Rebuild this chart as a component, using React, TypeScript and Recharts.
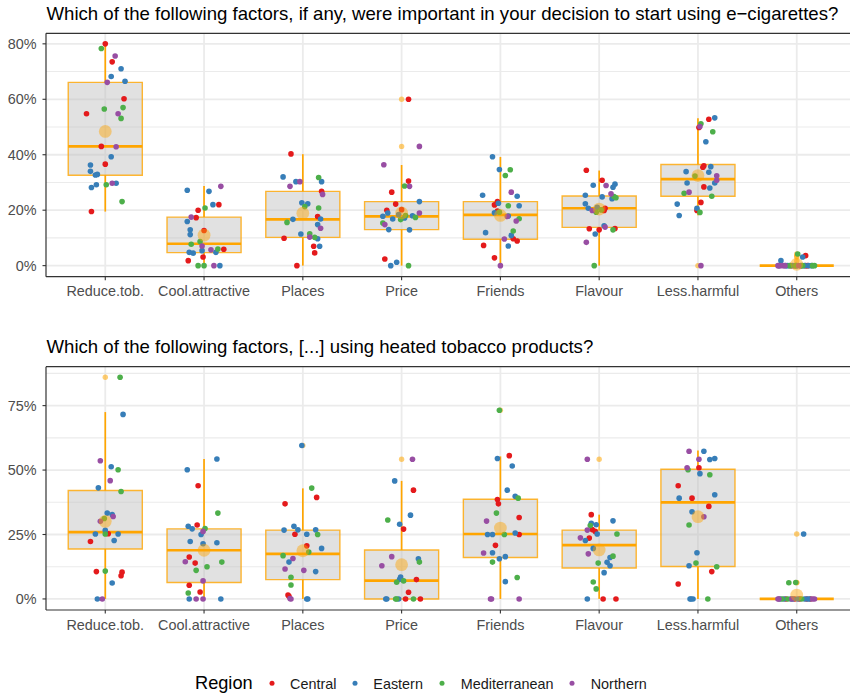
import React from 'react';
import {
  ScatterChart, Scatter, XAxis, YAxis, CartesianGrid, ReferenceArea, ReferenceLine
} from 'recharts';

const FONT = '"Liberation Sans", Arial, Helvetica, sans-serif';

const categories = ['Reduce.tob.', 'Cool.attractive', 'Places', 'Price', 'Friends', 'Flavour', 'Less.harmful', 'Others'];
const regionNames = ['Central', 'Eastern', 'Mediterranean', 'Northern'];
const regionKeys = ['C', 'E', 'M', 'N'];
const regionColors: Record<string, string> = { C: '#E41A1C', E: '#377EB8', M: '#4DAF4A', N: '#984EA3' };

type Pt = [string, number, number]; // region, jitter (category units), share %

// ---- e-cigarettes ----
const ecigReduce: Pt[] = [
  ['C', 0, 80.0], ['M', -0.04, 78.3], ['N', 0.10, 75.6], ['C', 0.07, 73.5], ['E', 0.16, 71.0], ['E', 0.06, 68.2],
  ['E', 0.20, 66.5], ['N', 0.02, 66.1], ['C', 0.19, 60.2], ['M', -0.01, 56.5], ['M', 0.18, 57.0], ['C', -0.19, 54.8],
  ['N', 0.13, 54.8], ['M', 0.16, 53.1], ['C', -0.04, 43.0], ['N', 0.11, 42.9], ['E', 0.06, 39.3], ['C', 0.0, 36.6],
  ['E', -0.15, 36.3], ['E', -0.15, 34.0], ['E', -0.10, 32.7], ['E', -0.08, 32.9], ['E', -0.14, 28.2], ['E', -0.09, 29.2],
  ['M', 0.01, 29.2], ['N', 0.07, 29.7], ['E', 0.11, 29.7], ['M', 0.17, 23.1], ['C', -0.14, 19.5],
];
const ecigCool: Pt[] = [
  ['E', -0.17, 27.2], ['E', 0.05, 26.8], ['N', 0.17, 28.6], ['E', 0.09, 22.0], ['C', 0.15, 22.0], ['M', 0.01, 20.8],
  ['C', -0.06, 20.0], ['N', -0.13, 17.5], ['C', -0.08, 17.3], ['E', -0.17, 15.9], ['E', -0.14, 12.9], ['E', -0.14, 11.2],
  ['C', 0, 12.7], ['M', -0.13, 7.7], ['M', -0.04, 8.7], ['N', -0.02, 7.1], ['E', -0.15, 4.8], ['E', -0.11, 4.5],
  ['E', -0.02, 5.4], ['N', 0.07, 5.7], ['M', 0.14, 6.0], ['C', 0.20, 5.9], ['E', 0.12, 4.8], ['C', -0.01, 3.1],
  ['C', -0.16, 1.8], ['M', -0.06, 0], ['M', 0, 0], ['N', 0.10, 0], ['E', 0.16, 0],
];
const ecigPlaces: Pt[] = [
  ['C', -0.12, 40.3], ['E', -0.20, 32.0], ['E', -0.07, 30.3], ['N', -0.13, 28.6], ['N', -0.03, 30.3], ['E', -0.01, 22.7],
  ['E', 0.05, 22.3], ['M', 0.02, 21.3], ['E', -0.10, 16.7], ['M', -0.16, 15.6], ['C', -0.19, 9.9], ['E', -0.02, 11.4],
  ['M', 0.07, 11.5], ['N', 0.07, 10.3], ['C', 0.11, 7.0], ['C', -0.06, 0], ['C', 0.12, 4.6], ['M', 0.12, 10.2],
  ['M', 0.16, 31.8], ['E', 0.19, 30.3], ['C', 0.19, 26.8], ['N', 0.20, 25.7], ['M', 0.16, 20.8], ['C', 0.15, 17.7],
  ['E', 0.18, 16.8], ['E', 0.15, 14.8], ['N', 0.18, 13.5], ['E', 0.15, 9.7], ['E', 0.17, 7.0],
];
const ecigPrice: Pt[] = [
  ['C', 0.07, 60.0], ['N', 0.18, 43.0], ['N', -0.18, 36.4], ['C', 0.07, 30.5], ['N', 0.08, 28.6], ['M', 0.03, 28.7],
  ['C', -0.10, 26.5], ['C', -0.06, 22.2], ['E', 0.18, 23.1], ['C', -0.15, 20.0], ['E', -0.14, 19.0], ['E', -0.19, 17.8],
  ['E', -0.09, 16.8], ['C', 0, 20.2], ['M', 0.04, 18.1], ['M', -0.01, 16.6], ['M', 0.14, 17.4], ['N', 0.18, 19.0],
  ['M', -0.19, 15.4], ['N', -0.17, 14.8], ['E', -0.13, 13.0], ['E', 0.08, 12.9], ['C', -0.17, 2.4], ['E', -0.05, 1.2],
  ['E', -0.11, 0], ['M', 0.07, 0], ['E', -0.03, 18.4], ['E', 0.03, 17.2], ['E', 0.11, 18.0],
];
const ecigFriends: Pt[] = [
  ['E', -0.08, 39.3], ['E', -0.01, 34.7], ['M', 0.10, 34.6], ['M', 0.05, 32.5], ['E', -0.18, 25.4], ['N', 0.11, 26.5],
  ['E', 0.17, 25.0], ['C', -0.03, 23.1], ['E', -0.02, 22.5], ['C', -0.06, 21.9], ['M', 0.08, 21.6], ['E', 0.19, 21.6],
  ['E', -0.06, 19.1], ['C', -0.03, 19.7], ['N', 0.07, 17.7], ['E', 0.08, 17.9], ['M', 0.19, 16.9], ['N', 0.16, 16.1],
  ['M', 0.13, 12.5], ['E', -0.15, 11.9], ['E', 0.11, 10.9], ['C', 0.13, 9.7], ['N', 0.04, 9.6], ['C', 0.17, 8.9],
  ['C', -0.17, 7.3], ['E', 0.08, 7.1], ['C', -0.06, 2.8], ['N', 0, 0], ['M', -0.01, 19.3],
];
const ecigFlavour: Pt[] = [
  ['C', -0.13, 34.4], ['C', 0.03, 30.8], ['E', -0.06, 29.0], ['N', 0.07, 28.9], ['E', 0.14, 28.3], ['E', 0.16, 29.4],
  ['E', -0.14, 25.4], ['E', 0.03, 24.8], ['N', 0.12, 25.9], ['E', 0.13, 24.1], ['M', 0.15, 24.9], ['M', 0.17, 24.5],
  ['E', -0.14, 22.3], ['E', -0.11, 20.7], ['N', -0.07, 19.9], ['M', -0.03, 19.3], ['C', 0.06, 20.7], ['C', 0.05, 19.9],
  ['E', 0.05, 14.4], ['N', 0.06, 13.9], ['C', -0.10, 13.3], ['C', 0, 12.9], ['C', 0.16, 13.4], ['M', 0.14, 12.9],
  ['E', -0.04, 11.4], ['N', -0.13, 8.4], ['M', -0.05, 0], ['E', -0.02, 21.0], ['M', 0.02, 20.1],
];
const ecigLess: Pt[] = [
  ['E', 0.17, 53.3], ['C', 0.11, 52.8], ['M', 0.03, 51.2], ['C', 0.01, 49.8], ['N', 0.02, 50.2], ['M', 0.15, 48.3],
  ['E', 0.08, 44.7], ['C', 0.06, 36.0], ['C', 0.05, 35.5], ['E', 0.13, 35.7], ['E', -0.12, 33.9], ['E', 0.11, 33.7],
  ['M', -0.03, 32.3], ['N', 0.19, 32.4], ['N', 0.19, 30.8], ['E', 0.17, 29.8], ['E', -0.11, 29.8], ['C', 0.06, 28.4],
  ['E', 0.12, 28.0], ['N', -0.09, 26.5], ['M', -0.14, 26.1], ['M', 0.14, 25.0], ['C', 0.03, 22.8], ['E', -0.21, 22.2],
  ['E', -0.01, 20.7], ['C', -0.01, 19.9], ['M', 0.02, 19.2], ['E', -0.19, 18.1], ['N', 0.03, 0],
];
const ecigOthers: Pt[] = [
  ['M', 0.01, 4.2], ['C', 0.09, 3.6], ['E', 0.06, 3.1], ['E', -0.16, 1.8], ['N', -0.19, 0], ['N', -0.17, 0],
  ['N', -0.14, 0], ['N', -0.12, 0], ['N', 0.02, 0], ['E', -0.18, 0], ['E', -0.09, 0], ['E', -0.04, 0],
  ['E', 0.0, 0], ['E', 0.05, 0], ['E', 0.12, 0], ['E', 0.15, 0], ['E', -0.11, 0], ['E', 0.08, 0],
  ['C', -0.06, 0], ['C', 0.09, 0], ['C', 0.11, 0], ['C', -0.02, 0], ['C', 0.04, 0], ['M', 0.18, 0],
  ['M', -0.07, 0], ['M', 0.06, 0], ['M', 0.16, 0], ['M', -0.01, 0],
];
const ecigQ1 = [32.6, 4.7, 10.2, 13.0, 9.5, 13.8, 25.0, 0];
const ecigMedian = [43.0, 7.9, 16.7, 17.8, 18.3, 20.7, 31.2, 0];
const ecigQ3 = [66.1, 17.5, 26.8, 23.1, 23.1, 25.1, 36.5, 0];
const ecigLow = [19.5, 0, 0, 0, 0, 0, 18.2, 0];
const ecigHigh = [80.0, 28.7, 40.2, 36.3, 39.2, 34.3, 53.2, 0];
const ecigMean = [48.4, 11.0, 18.9, 19.0, 18.1, 20.4, 32.5, 0.5];
const ecigOutliers: [number, number][] = [[4, 60.0], [4, 43.0], [7, 0], [8, 4.2], [8, 3.6], [8, 3.1], [8, 1.8]];

// ---- heated tobacco ----
const htpReduce: Pt[] = [
  ['M', 0.15, 86.0], ['E', 0.18, 71.6], ['N', -0.05, 53.6], ['E', 0.06, 51.3], ['M', 0.13, 50.1], ['N', 0.05, 45.9],
  ['E', -0.07, 43.1], ['M', 0.16, 41.7], ['E', 0.02, 33.3], ['N', 0.08, 32.0], ['E', 0.07, 32.7], ['N', -0.05, 30.1],
  ['M', -0.01, 31.2], ['E', 0, 26.6], ['C', 0.03, 25.3], ['M', 0, 25.2], ['E', -0.10, 25.2], ['E', 0.13, 25.2],
  ['E', 0.09, 22.7], ['C', -0.15, 22.3], ['C', -0.09, 10.6], ['M', 0, 10.8], ['C', 0.17, 10.4], ['C', 0.16, 9.0],
  ['E', 0.07, 6.2], ['E', -0.08, 0], ['N', -0.03, 0],
];
const htpCool: Pt[] = [
  ['E', 0.13, 54.3], ['E', -0.17, 50.1], ['C', -0.06, 43.9], ['M', 0.14, 33.3], ['C', -0.07, 28.7], ['E', -0.16, 28.2],
  ['E', -0.12, 27.2], ['M', 0.01, 27.3], ['N', -0.01, 26.2], ['E', -0.03, 25.0], ['E', -0.14, 22.3], ['E', 0.13, 21.8],
  ['E', -0.01, 21.4], ['C', -0.15, 16.3], ['N', -0.19, 14.4], ['C', -0.09, 13.9], ['M', 0.03, 12.5], ['M', 0.18, 14.3],
  ['M', -0.08, 11.1], ['N', -0.01, 7.0], ['C', -0.15, 5.3], ['C', -0.04, 2.7], ['M', -0.16, 2.3], ['E', -0.15, 0],
  ['N', -0.08, 0], ['N', -0.01, 0], ['E', 0.17, 0],
];
const htpPlaces: Pt[] = [
  ['E', -0.01, 59.5], ['M', 0.09, 43.0], ['C', 0.14, 39.4], ['C', -0.18, 36.9], ['E', -0.09, 28.2], ['E', -0.19, 26.7],
  ['E', -0.05, 26.8], ['C', -0.08, 25.1], ['E', 0.04, 25.1], ['C', 0.04, 20.6], ['M', 0.06, 18.2], ['M', -0.20, 16.8],
  ['E', -0.14, 14.3], ['N', -0.10, 15.7], ['N', -0.18, 11.6], ['N', 0.01, 11.1], ['E', 0.13, 10.6], ['M', -0.12, 8.4],
  ['M', -0.12, 5.4], ['C', -0.15, 1.5], ['C', -0.14, 1.0], ['N', -0.12, 0], ['E', 0.04, 0], ['E', 0.05, 0],
  ['E', 0.13, 26.8], ['M', 0.15, 25.0], ['E', 0.19, 19.6], ['N', -0.13, 0.2],
];
const htpPrice: Pt[] = [
  ['N', 0.11, 54.2], ['E', -0.07, 45.8], ['C', 0.12, 42.2], ['E', 0.09, 32.5], ['M', -0.14, 30.6], ['E', -0.02, 29.0],
  ['C', 0.02, 27.1], ['N', -0.10, 16.4], ['N', -0.20, 12.9], ['E', 0.17, 15.6], ['M', 0.18, 14.3], ['E', -0.01, 8.5],
  ['E', -0.02, 7.6], ['M', 0.02, 7.0], ['M', -0.05, 6.5], ['C', 0.15, 7.5], ['C', 0.07, 2.6], ['E', -0.16, 0],
  ['E', -0.15, 0], ['M', -0.06, 0], ['M', -0.05, 0], ['E', -0.03, 0], ['C', 0.04, 0], ['M', 0.12, 0], ['C', 0.19, 0],
];
const htpFriends: Pt[] = [
  ['M', -0.01, 73.2], ['E', -0.03, 54.5], ['C', 0.09, 55.6], ['E', 0.12, 51.6], ['E', 0.07, 42.2], ['E', 0.15, 39.8],
  ['M', 0.18, 39.1], ['C', -0.03, 38.6], ['C', -0.02, 36.9], ['M', -0.04, 33.3], ['C', 0.19, 31.6], ['N', -0.14, 30.2],
  ['E', -0.13, 25.0], ['E', -0.08, 25.0], ['M', 0.04, 25.0], ['E', 0.15, 25.6], ['C', 0.19, 25.0], ['C', -0.05, 20.8],
  ['N', -0.17, 17.8], ['E', -0.08, 17.9], ['E', -0.01, 15.6], ['E', 0.05, 16.4], ['M', -0.08, 14.3], ['E', 0.05, 6.7],
  ['M', 0.17, 8.3], ['N', -0.10, 0], ['N', -0.09, 0], ['N', 0.19, 0],
];
const htpFlavour: Pt[] = [
  ['N', -0.12, 54.2], ['C', -0.08, 32.7], ['E', 0.14, 30.3], ['E', -0.08, 29.3], ['M', -0.09, 28.5], ['E', -0.03, 28.8],
  ['C', -0.07, 26.9], ['N', -0.12, 26.7], ['C', -0.04, 26.2], ['E', -0.02, 25.2], ['M', 0.18, 25.2], ['N', -0.19, 23.7],
  ['C', -0.10, 23.6], ['E', -0.14, 22.7], ['E', -0.06, 19.6], ['N', -0.11, 17.5], ['M', 0.14, 16.6], ['E', 0.11, 16.1],
  ['E', 0.08, 14.2], ['E', 0.11, 12.9], ['M', -0.01, 13.9], ['E', 0.05, 10.2], ['M', -0.06, 6.6], ['M', -0.03, 3.9],
  ['E', -0.12, 0], ['C', 0.04, 0], ['C', 0.17, 0],
];
const htpLess: Pt[] = [
  ['E', 0.06, 57.3], ['N', -0.09, 57.3], ['N', 0.01, 54.2], ['E', 0.12, 54.1], ['E', 0.17, 54.5], ['N', -0.11, 50.9],
  ['M', -0.10, 50.1], ['C', 0.01, 50.9], ['E', 0.02, 48.6], ['M', 0.12, 48.2], ['C', -0.20, 43.9], ['E', -0.19, 39.1],
  ['C', -0.06, 39.1], ['E', 0.17, 40.4], ['C', 0.11, 35.9], ['E', -0.06, 33.8], ['N', 0.06, 31.9], ['M', -0.09, 28.7],
  ['E', -0.01, 17.9], ['E', -0.09, 12.9], ['M', -0.02, 13.9], ['M', 0.19, 12.5], ['C', 0.14, 10.6], ['C', -0.20, 5.8],
  ['E', -0.08, 0], ['E', -0.07, 0], ['E', -0.05, 0], ['M', 0.10, 0],
];
const htpOthers: Pt[] = [
  ['E', 0.07, 25.2], ['M', -0.08, 6.3], ['M', -0.01, 6.4], ['N', -0.19, 0], ['N', -0.18, 0], ['E', -0.17, 0],
  ['M', -0.09, 0], ['E', -0.04, 0], ['C', -0.02, 0], ['C', 0.03, 0], ['E', 0.08, 0], ['E', 0.11, 0],
  ['C', 0.14, 0], ['N', 0.18, 0], ['N', 0.16, 0], ['E', -0.13, 0], ['E', 0.01, 0], ['M', 0.05, 0],
  ['C', 0.10, 0], ['E', -0.06, 0], ['M', -0.15, 0], ['E', 0.13, 0], ['C', -0.11, 0], ['N', -0.05, 0],
];
const htpQ1 = [19.4, 6.4, 7.5, 0, 16.1, 12.0, 12.6, 0];
const htpMedian = [25.9, 18.9, 17.5, 7.1, 25.2, 20.9, 37.5, 0];
const htpQ3 = [42.1, 27.2, 26.7, 19.0, 38.7, 26.7, 50.3, 0];
const htpLow = [0, 0, 0, 0, 0, 0, 0, 0];
const htpHigh = [72.5, 54.3, 42.9, 45.8, 55.3, 32.7, 57.6, 0];
const htpMean = [30.1, 18.9, 18.7, 13.3, 27.5, 19.0, 31.9, 1.5];
const htpOutliers: [number, number][] = [[1, 86.0], [3, 59.5], [4, 54.2], [5, 73.2], [6, 54.2], [8, 25.2], [8, 6.3], [8, 6.4]];

const ecigTicks = [0, 20, 40, 60, 80];
const ecigMinor = [10, 30, 50, 70];
const htpTicks = [0, 25, 50, 75];
const htpMinor = [12.5, 37.5, 62.5, 87.5];

const ORANGE = '#FFA500';
const BOX_W = 0.375;
const catTicks = categories.map((_, i) => i + 1);

interface PanelProps {
  groups: Pt[][];
  q1: number[]; median: number[]; q3: number[]; low: number[]; high: number[]; mean: number[];
  outliers: [number, number][];
  ticks: number[]; minor: number[]; domain: [number, number];
  marginTop: number; axisHeight: number;
}

function Panel(p: PanelProps) {
  const byRegion = regionKeys.map(r =>
    p.groups.flatMap((g, ci) => g.filter(d => d[0] === r).map(d => ({ x: ci + 1 + d[1], y: d[2] })))
  );
  const means = p.mean.map((m, i) => ({ x: i + 1, y: m }));
  const outs = p.outliers.map(([c, v]) => ({ x: c, y: v }));
  const tickStyle = { fill: '#4D4D4D', fontSize: 14.4, fontFamily: FONT };
  return (
    <ScatterChart width={856} height={300} margin={{ top: p.marginTop, right: 0, bottom: 0, left: 0 }}>
      <CartesianGrid horizontalValues={p.minor} vertical={false} stroke="#EBEBEB" strokeWidth={1.1} strokeDasharray="" />
      <CartesianGrid horizontalValues={p.ticks} verticalValues={catTicks} stroke="#EBEBEB" strokeWidth={1.8} strokeDasharray="" />
      <XAxis
        type="number" dataKey="x" domain={[0.4, 8.6]} ticks={catTicks} interval={0} allowDataOverflow
        tickFormatter={(v: number) => categories[v - 1]} height={p.axisHeight}
        tickSize={3.5} tickMargin={6} tick={tickStyle}
        axisLine={{ stroke: '#333333', strokeWidth: 1.2 }} tickLine={{ stroke: '#333333', strokeWidth: 1.1 }}
      />
      <YAxis
        type="number" dataKey="y" domain={p.domain} ticks={p.ticks} interval={0} allowDataOverflow
        tickFormatter={(v: number) => `${v}%`} width={46}
        tickSize={3.5} tickMargin={6} tick={tickStyle}
        axisLine={{ stroke: '#333333', strokeWidth: 1.2 }} tickLine={{ stroke: '#333333', strokeWidth: 1.1 }}
      />
      <ReferenceLine y={p.domain[1]} stroke="#333333" strokeWidth={1.2} />
      {categories.map((_, i) => (
        <ReferenceArea key={`box${i}`} x1={i + 1 - BOX_W} x2={i + 1 + BOX_W} y1={p.q1[i]} y2={p.q3[i]}
          fill="#BDBDBD" fillOpacity={0.45} stroke={ORANGE} strokeOpacity={0.8} strokeWidth={1.4} />
      ))}
      {categories.map((_, i) => (
        <ReferenceLine key={`wu${i}`} segment={[{ x: i + 1, y: p.q3[i] }, { x: i + 1, y: p.high[i] }]}
          stroke={ORANGE} strokeWidth={1.7} />
      ))}
      {categories.map((_, i) => (
        <ReferenceLine key={`wl${i}`} segment={[{ x: i + 1, y: p.q1[i] }, { x: i + 1, y: p.low[i] }]}
          stroke={ORANGE} strokeWidth={1.7} />
      ))}
      {categories.map((_, i) => (
        <ReferenceLine key={`md${i}`} segment={[{ x: i + 1 - BOX_W, y: p.median[i] }, { x: i + 1 + BOX_W, y: p.median[i] }]}
          stroke={ORANGE} strokeWidth={2.7} />
      ))}
      <Scatter data={outs} isAnimationActive={false}
        shape={(s: any) => <circle cx={s.cx} cy={s.cy} r={2.7} fill={ORANGE} fillOpacity={0.55} />} />
      {byRegion.map((d, ri) => (
        <Scatter key={regionKeys[ri]} name={regionNames[ri]} data={d} isAnimationActive={false}
          shape={(s: any) => <circle cx={s.cx} cy={s.cy} r={2.8} fill={regionColors[regionKeys[ri]]} />} />
      ))}
      <Scatter data={means} isAnimationActive={false}
        shape={(s: any) => <circle cx={s.cx} cy={s.cy} r={6.4} fill={ORANGE} fillOpacity={0.45} />} />
    </ScatterChart>
  );
}

const legendX = [272, 355, 442, 572];
const legendTextX = [290, 373.3, 460.7, 590.7];

export default function App() {
  return (
    <div style={{ position: 'fixed', left: 0, top: 0, width: 850, height: 693, overflow: 'hidden', background: '#fff', fontFamily: FONT }}>
      <div style={{ position: 'absolute', left: 0, top: 0 }}>
        <Panel groups={[ecigReduce, ecigCool, ecigPlaces, ecigPrice, ecigFriends, ecigFlavour, ecigLess, ecigOthers]}
          q1={ecigQ1} median={ecigMedian} q3={ecigQ3} low={ecigLow} high={ecigHigh} mean={ecigMean}
          outliers={ecigOutliers} ticks={ecigTicks} minor={ecigMinor} domain={[-3.99, 83.8]}
          marginTop={33.3} axisHeight={23.3} />
      </div>
      <div style={{ position: 'absolute', left: 0, top: 340 }}>
        <Panel groups={[htpReduce, htpCool, htpPlaces, htpPrice, htpFriends, htpFlavour, htpLess, htpOthers]}
          q1={htpQ1} median={htpMedian} q3={htpQ3} low={htpLow} high={htpHigh} mean={htpMean}
          outliers={htpOutliers} ticks={htpTicks} minor={htpMinor} domain={[-4.29, 90.1]}
          marginTop={26.7} axisHeight={30} />
      </div>
      <svg width={850} height={693} style={{ position: 'absolute', left: 0, top: 0, pointerEvents: 'none' }}>
        <text x={46.5} y={19.5} fontSize={18.6} fill="#000" fontFamily={FONT}>
          Which of the following factors, if any, were important in your decision to start using e−cigarettes?
        </text>
        <text x={46.5} y={353} fontSize={18.6} fill="#000" fontFamily={FONT}>
          Which of the following factors, [...] using heated tobacco products?
        </text>
        <text x={195} y={689.3} fontSize={18.2} fill="#000" fontFamily={FONT}>Region</text>
        {regionKeys.map((r, i) => (
          <g key={r}>
            <circle cx={legendX[i]} cy={683.3} r={2.5} fill={regionColors[r]} />
            <text x={legendTextX[i]} y={688.7} fontSize={14.4} fill="#1A1A1A" fontFamily={FONT}>{regionNames[i]}</text>
          </g>
        ))}
      </svg>
    </div>
  );
}
